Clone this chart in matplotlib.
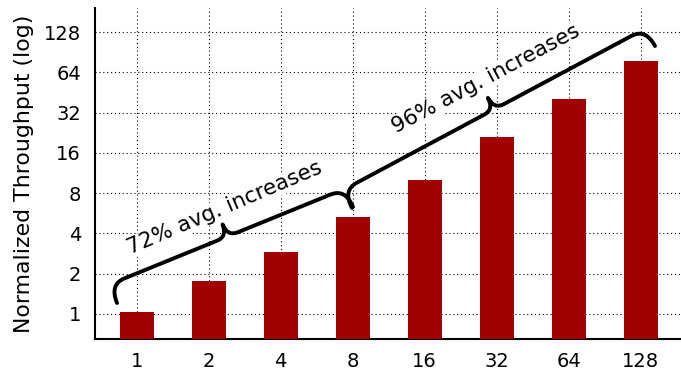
import numpy as np
import matplotlib
matplotlib.use("Agg")
import matplotlib.pyplot as plt
from matplotlib.path import Path
from matplotlib.patches import PathPatch

# ── Data ────────────────────────────────────────────────────────────────────
CATEGORIES = ["1", "2", "4", "8", "16", "32", "64", "128"]
THROUGHPUT = [1.02, 1.74, 2.91, 5.3, 10.1, 21.1, 40.6, 78.0]
Y_TICKS = [1, 2, 4, 8, 16, 32, 64, 128]
NOTES = ["72% avg. increases", "96% avg. increases"]

W, H = 681, 371
BAR_COLOR = "#a00000"

plt.rcParams.update({
    "font.family": ["DejaVu Sans"],
    "font.size": 14,
})


def px(x, y):
    """Pixel (top-left origin) -> figure fraction."""
    return x / W, 1 - y / H


def brace(fig, p0, p1, h=20, hc=33, r=16, r2=11, lw=2.8):
    """Curly brace between two pixel points, bulging to the upper-left side."""
    p0 = np.asarray(p0, float)
    p1 = np.asarray(p1, float)
    d = p1 - p0
    L = np.hypot(*d)
    d /= L
    n = np.array([d[1], -d[0]])  # normal pointing up in pixel coords
    if n[1] > 0:
        n = -n
    m = L / 2
    local = [
        (0, 0), (0, h), (r, h),
        (m - r2, h), (m, h), (m, hc),
        (m, h), (m + r2, h),
        (L - r, h), (L, h), (L, 0),
    ]
    codes = [Path.MOVETO, Path.CURVE3, Path.CURVE3,
             Path.LINETO, Path.CURVE3, Path.CURVE3,
             Path.CURVE3, Path.CURVE3,
             Path.LINETO, Path.CURVE3, Path.CURVE3]
    verts = [px(*(p0 + u * d + v * n)) for u, v in local]
    patch = PathPatch(Path(verts, codes), facecolor="none", edgecolor="black",
                      lw=lw, transform=fig.transFigure, capstyle="round",
                      joinstyle="round", zorder=5)
    fig.add_artist(patch)


fig = plt.figure(figsize=(W / 100, H / 100), dpi=100)
ax = fig.add_axes([95 / W, 32 / H, 1 - 95 / W, (339 - 8) / H])

x = np.arange(len(CATEGORIES))
ax.bar(x, THROUGHPUT, width=0.47, color=BAR_COLOR, zorder=3, bottom=0.01)
ax.set_yscale("log", base=2)
ax.set_ylim(0.65, 194)
ax.set_xlim(-0.58, 7.56)
ax.set_yticks(Y_TICKS)
ax.set_yticklabels([str(t) for t in Y_TICKS])
ax.minorticks_off()
ax.set_xticks(x)
ax.set_xticklabels(CATEGORIES)
ax.tick_params(axis="y", length=0, pad=10)
ax.tick_params(axis="x", length=0, pad=9.5)
ax.set_ylabel("Normalized Throughput (log)", fontsize=15.8, labelpad=7)
ax.grid(True, color="black", linestyle=(0, (1, 2.5)), linewidth=0.8, zorder=0)
ax.set_axisbelow(True)
for s in ["top", "right"]:
    ax.spines[s].set_visible(False)
for s in ["left", "bottom"]:
    ax.spines[s].set_linewidth(1.5)

# braces and their notes
brace(fig, (117, 303), (353, 207))
brace(fig, (352, 208), (655, 46))

fig.text(*px(225, 208), NOTES[0], rotation=23, ha="center", va="center",
         rotation_mode="anchor", fontsize=15.5,
         bbox=dict(facecolor="white", edgecolor="none", pad=0.5), zorder=4)
fig.text(*px(486, 79), NOTES[1], rotation=28, ha="center", va="center",
         rotation_mode="anchor", fontsize=15.5,
         bbox=dict(facecolor="white", edgecolor="none", pad=0.5), zorder=4)

fig.savefig("out.png", dpi=100)
